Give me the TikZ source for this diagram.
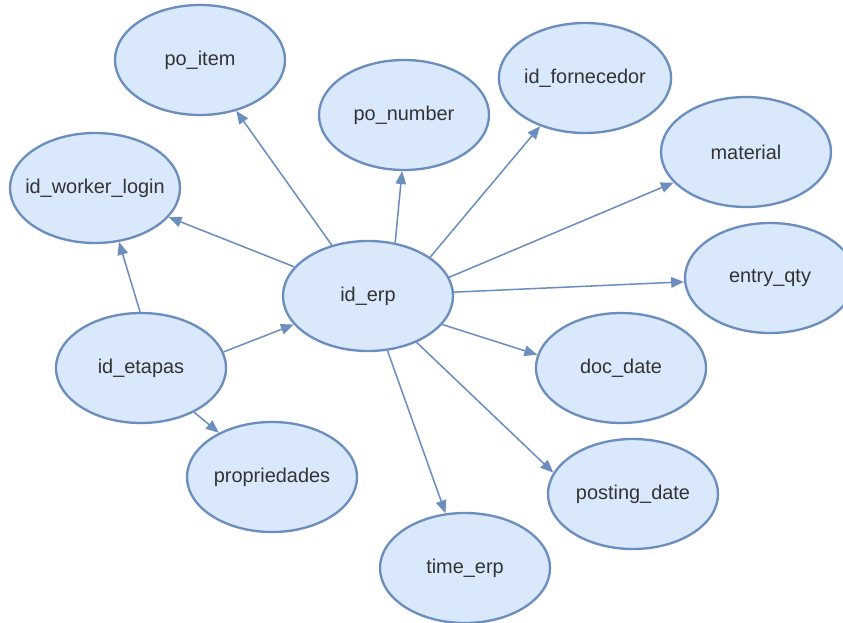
\documentclass[tikz,border=0pt]{standalone}
\usepackage{fontspec}
\setmainfont{Liberation Sans}
\usetikzlibrary{arrows.meta, shapes.geometric}
\definecolor{attrfill}{HTML}{DAE8FC}
\definecolor{attrline}{HTML}{6C8EBF}
\definecolor{attrtext}{HTML}{333333}

\tikzset{
  attr/.style={ellipse, draw=attrline, fill=attrfill, line width=2pt,
    minimum width=5.1cm, minimum height=3.3cm, inner sep=0pt,
    text=attrtext, font=\fontsize{17}{20}\selectfont},
  link/.style={draw=attrline, line width=1.3pt, -{Triangle[length=11pt,width=9pt]}}
}

\begin{document}
\begin{tikzpicture}[x=0.03cm, y=-0.03cm]
  \useasboundingbox (0,0) rectangle (843,623);

  % attributes
  \node[attr] (erp)       at (368,296) {id\_erp};
  \node[attr] (poitem)    at (200,60)  {po\_item};
  \node[attr] (ponumber)  at (404,115) {po\_number};
  \node[attr] (fornec)    at (585,78)  {id\_fornecedor};
  \node[attr] (material)  at (746,152) {material};
  \node[attr, inner xsep=-10pt] (worker) at (95,188) {id\_worker\_login};
  \node[attr] (entryqty)  at (770,278) {entry\_qty};
  \node[attr] (etapas)    at (141,368) {id\_etapas};
  \node[attr] (docdate)   at (621,368) {doc\_date};
  \node[attr] (propr)     at (272,477) {propriedades};
  \node[attr] (posting)   at (633,494) {posting\_date};
  \node[attr] (timeerp)   at (465,568) {time\_erp};

  % links
  \draw[link] (erp) -- (poitem);
  \draw[link] (erp.63) -- (ponumber.268);
  \draw[link] (erp.32) -- (fornec.227);
  \draw[link] (erp.13) -- (material);
  \draw[link] (erp) -- (entryqty);
  \draw[link] (erp.-21) -- (docdate.171);
  \draw[link] (erp) -- (posting.165);
  \draw[link] (erp) -- (timeerp);
  \draw[link] (erp) -- (worker);
  \draw[link] (etapas.11) -- (erp.201);
  \draw[link] (etapas.91) -- (worker.294);
  \draw[link] (etapas) -- (propr);
\end{tikzpicture}
\end{document}
